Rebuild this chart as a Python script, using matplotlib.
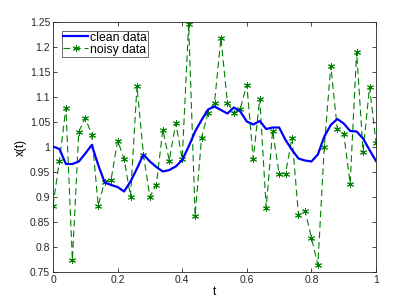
import numpy as np
import matplotlib
matplotlib.use("Agg")
import matplotlib.pyplot as plt

plt.rcParams['font.family'] = ['Liberation Sans', 'DejaVu Sans']

t = [round(0.02 * i, 2) for i in range(51)]

clean = [1.001, 0.996, 0.966, 0.966, 0.971, 0.987, 1.004, 0.964, 0.929, 0.924,
         0.920, 0.911, 0.931, 0.957, 0.985, 0.971, 0.960, 0.951, 0.954, 0.961,
         0.974, 1.001, 1.031, 1.054, 1.075, 1.081, 1.074, 1.067, 1.079, 1.071,
         1.051, 1.045, 1.052, 1.036, 1.039, 1.039, 1.014, 0.994, 0.977, 0.973,
         0.971, 0.985, 1.021, 1.044, 1.056, 1.047, 1.032, 1.031, 1.017, 0.994,
         0.972]

noisy = [0.883, 0.973, 1.079, 0.774, 1.031, 1.058, 1.025, 0.883, 0.931, 0.935,
         1.013, 0.977, 0.901, 1.122, 0.985, 0.900, 0.925, 1.035, 0.973, 1.048,
         0.976, 1.246, 0.863, 1.019, 1.068, 1.089, 1.218, 1.089, 1.068, 1.077,
         1.125, 0.976, 1.097, 0.879, 1.033, 0.946, 0.947, 1.019, 0.864, 0.873,
         0.819, 0.764, 1.001, 1.163, 1.037, 1.027, 0.927, 1.191, 0.991, 1.120,
         1.009]

xticks = [0, 0.2, 0.4, 0.6, 0.8, 1]
xticklabels = ['0', '0.2', '0.4', '0.6', '0.8', '1']
yticks = [0.75, 0.8, 0.85, 0.9, 0.95, 1.0, 1.05, 1.1, 1.15, 1.2, 1.25]
yticklabels = ['0.75', '0.8', '0.85', '0.9', '0.95', '1', '1.05', '1.1', '1.15', '1.2', '1.25']

fig = plt.figure(figsize=(4.15, 3.06), dpi=100)
ax = fig.add_axes([53/415, 34/306, 323/415, 250/306])

ax.plot(t, clean, color=(0, 0, 1), lw=1.6, label='clean data', zorder=3)
ax.plot(t, noisy, color=(0, 0.5, 0), lw=0.8, ls=(0, (6, 3.5)), marker=(6, 2, 0),
        markersize=5, markeredgewidth=0.7, label='noisy data', zorder=2)

ax.set_xlim(0, 1)
ax.set_ylim(0.75, 1.25)
ax.set_xticks(xticks)
ax.set_xticklabels(xticklabels)
ax.set_yticks(yticks)
ax.set_yticklabels(yticklabels)
ax.tick_params(direction='in', top=True, right=True, labelsize=7.5,
               length=3, width=0.6, colors='#262626', pad=2)
for s in ax.spines.values():
    s.set_linewidth(0.6)
    s.set_color('#262626')
ax.set_xlabel('t', fontsize=8.5, labelpad=1)
ax.set_ylabel('x(t)', fontsize=8.5, labelpad=2)

leg = ax.legend(loc='upper left', fontsize=8.8, frameon=True, fancybox=False,
                borderpad=0.1, handlelength=2.1, handletextpad=0.1,
                labelspacing=0.0, borderaxespad=0.7)
leg.get_frame().set_edgecolor('#262626')
leg.get_frame().set_linewidth(0.6)

fig.savefig('out.png', dpi=100)
